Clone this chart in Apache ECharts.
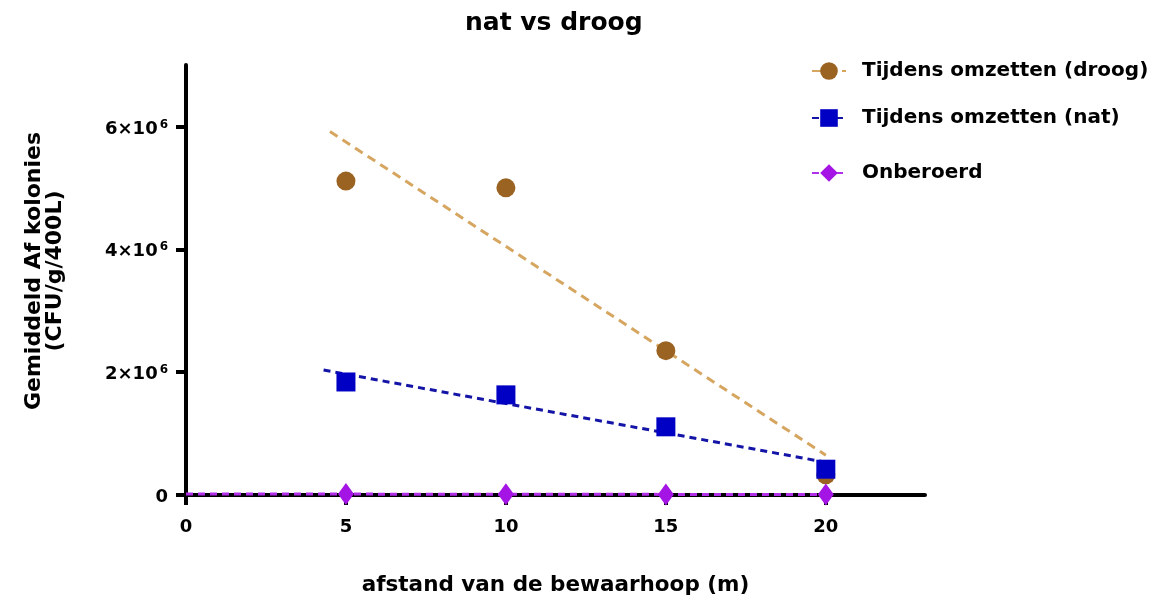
<!DOCTYPE html>
<html>
<head>
<meta charset="utf-8">
<script src="https://cdn.jsdelivr.net/npm/echarts@6/dist/echarts.min.js"></script>
<style>html,body{margin:0;padding:0;background:#fff}#c{width:1156px;height:597px}</style>
</head>
<body>
<div id="c"></div>
<script>
var xValues = [5, 10, 15, 20];
var droog = [5110000, 5000000, 2350000, 330000];
var nat = [1840000, 1630000, 1110000, 420000];
var onberoerd = [15000, 12000, 10000, 8000];
var seriesNames = ['Tijdens omzetten (droog)', 'Tijdens omzetten (nat)', 'Onberoerd'];
var fitRanges = [[4.5, 20], [4.3, 20], [0, 20]];
var xTicks = [0, 5, 10, 15, 20];
var yTicks = [0, 2000000, 4000000, 6000000];

var FONT = 'DejaVu Sans';

function fit(xs, ys, range) {
  var n = xs.length, mx = 0, my = 0;
  for (var i = 0; i < n; i++) { mx += xs[i]; my += ys[i]; }
  mx /= n; my /= n;
  var sxy = 0, sxx = 0;
  for (i = 0; i < n; i++) { sxy += (xs[i]-mx)*(ys[i]-my); sxx += (xs[i]-mx)*(xs[i]-mx); }
  var b = sxy / sxx, a = my - b*mx;
  return [[range[0], a + b*range[0]], [range[1], a + b*range[1]]];
}
function pts(ys) { return xValues.map(function (x, i) { return [x, ys[i]]; }); }

var groups = [
  {name: seriesNames[0], ys: droog, symbol: 'circle', size: 19, mark: '#9A6322', line: '#D6A660', dash: [9, 6]},
  {name: seriesNames[1], ys: nat, symbol: 'rect', size: 19, mark: '#0000C4', line: '#1414A6', dash: [7, 5]},
  {name: seriesNames[2], ys: onberoerd, symbol: 'diamond', size: [16, 22], mark: '#A414E4', line: '#B030E8', dash: [7, 5]}
];
var series = [];
groups.forEach(function (g, k) {
  series.push({
    name: g.name, type: 'line', data: fit(xValues, g.ys, fitRanges[k]),
    symbol: g.symbol, symbolSize: 16, showSymbol: false, silent: true, z: 3,
    itemStyle: {color: g.mark, opacity: 1},
    lineStyle: {color: g.line, width: 3, type: g.dash}
  });
});
groups.forEach(function (g) {
  series.push({
    name: g.name, type: 'scatter', data: pts(g.ys), symbol: g.symbol,
    symbolSize: g.size, z: 5,
    itemStyle: {color: g.mark, opacity: 1}
  });
});

var legendTops = [56, 103, 158];
var legends = seriesNames.map(function (n, i) {
  return {
    orient: 'vertical', left: 806, top: legendTops[i], itemWidth: 34, itemHeight: 22,
    data: [n],
    textStyle: {fontFamily: FONT, fontWeight: 'bold', fontSize: 20, color: '#000', padding: [0, 0, 0, 11]}
  };
});

var chart = echarts.init(document.getElementById('c'), null, {renderer: 'canvas'});
chart.setOption({
  animation: false,
  backgroundColor: '#fff',
  title: {text: 'nat vs droog', left: 460, top: 6,
    textStyle: {fontFamily: FONT, fontWeight: 'bold', fontSize: 25, color: '#000'}},
  legend: legends,
  grid: {left: 186, right: 231, top: 65, bottom: 102, containLabel: false, outerBoundsMode: 'none'},
  xAxis: {
    type: 'value', min: 0, max: 23.1,
    name: 'afstand van de bewaarhoop (m)', nameLocation: 'middle', nameGap: 79,
    nameTextStyle: {fontFamily: FONT, fontWeight: 'bold', fontSize: 21.5, color: '#000'},
    axisLine: {onZero: false, lineStyle: {color: '#000', width: 4}},
    axisTick: {length: 10, lineStyle: {width: 4, color: '#000'}, customValues: xTicks},
    axisLabel: {customValues: xTicks, margin: 23, fontFamily: FONT, fontWeight: 'bold', fontSize: 18, color: '#000'},
    splitLine: {show: false}
  },
  yAxis: {
    type: 'value', min: 0, max: 7000000,
    name: 'Gemiddeld Af kolonies\n(CFU/g/400L)', nameLocation: 'middle', nameGap: 120, nameRotate: 90,
    nameTextStyle: {fontFamily: FONT, fontWeight: 'bold', fontSize: 22, color: '#000', lineHeight: 21, padding: [0, 0, 0, 18]},
    axisLine: {onZero: false, lineStyle: {color: '#000', width: 4}},
    axisTick: {length: 10, lineStyle: {width: 4, color: '#000'}, customValues: yTicks},
    axisLabel: {
      customValues: yTicks, margin: 18, padding: [5, 0, 0, 0],
      formatter: function (v) { return v === 0 ? '{b|0}' : '{b|' + (v/1000000) + '×10}{s|6}'; },
      rich: {
        b: {fontFamily: FONT, fontWeight: 'bold', fontSize: 18, color: '#000'},
        s: {fontFamily: FONT, fontWeight: 'bold', fontSize: 12, color: '#000', verticalAlign: 'bottom', padding: [0, 0, 9, 2]}
      }
    },
    splitLine: {show: false}
  },
  series: series
});
</script>
</body>
</html>
